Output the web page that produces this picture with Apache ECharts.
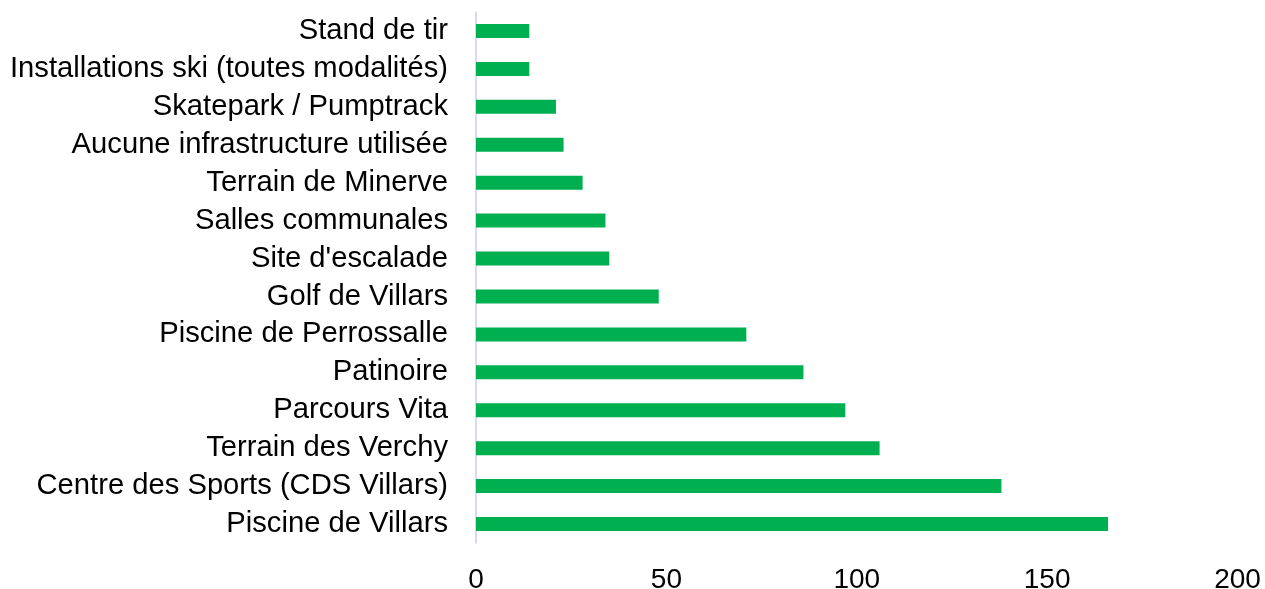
<!DOCTYPE html>
<html>
<head>
<meta charset="utf-8">
<script src="https://cdn.jsdelivr.net/npm/echarts@6/dist/echarts.min.js"></script>
<style>
html,body{margin:0;padding:0;background:#fff;}
#chart{width:1265px;height:589px;}
</style>
</head>
<body>
<div id="chart"></div>
<script>
var categories = [
  "Stand de tir",
  "Installations ski (toutes modalités)",
  "Skatepark / Pumptrack",
  "Aucune infrastructure utilisée",
  "Terrain de Minerve",
  "Salles communales",
  "Site d'escalade",
  "Golf de Villars",
  "Piscine de Perrossalle",
  "Patinoire",
  "Parcours Vita",
  "Terrain des Verchy",
  "Centre des Sports (CDS Villars)",
  "Piscine de Villars"
];
var values = [14, 14, 21, 23, 28, 34, 35, 48, 71, 86, 97, 106, 138, 166];
var xTicks = { min: 0, max: 200, interval: 50 };

var chart = echarts.init(document.getElementById('chart'), null, {renderer: 'canvas'});
chart.setOption({
  animation: false,
  backgroundColor: '#ffffff',
  grid: { left: 476, right: 27.5, top: 12, bottom: 46, containLabel: false, outerBoundsMode: 'none' },
  xAxis: {
    type: 'value',
    min: xTicks.min, max: xTicks.max, interval: xTicks.interval,
    axisLine: { show: false },
    axisTick: { show: false },
    splitLine: { show: false },
    axisLabel: { color: '#000', fontSize: 28, fontFamily: 'Liberation Sans, Arial, sans-serif', margin: 23 }
  },
  yAxis: {
    type: 'category',
    inverse: true,
    data: categories,
    axisLine: { show: true, lineStyle: { color: '#cdcdf0', width: 1.5 } },
    axisTick: { show: false },
    axisLabel: { interval: 0, color: '#000', fontSize: 29.2, fontFamily: 'Liberation Sans, Arial, sans-serif', margin: 28 }
  },
  series: [{
    type: 'bar',
    data: values,
    barWidth: 14,
    itemStyle: { color: '#00b050' }
  }]
});
</script>
</body>
</html>
